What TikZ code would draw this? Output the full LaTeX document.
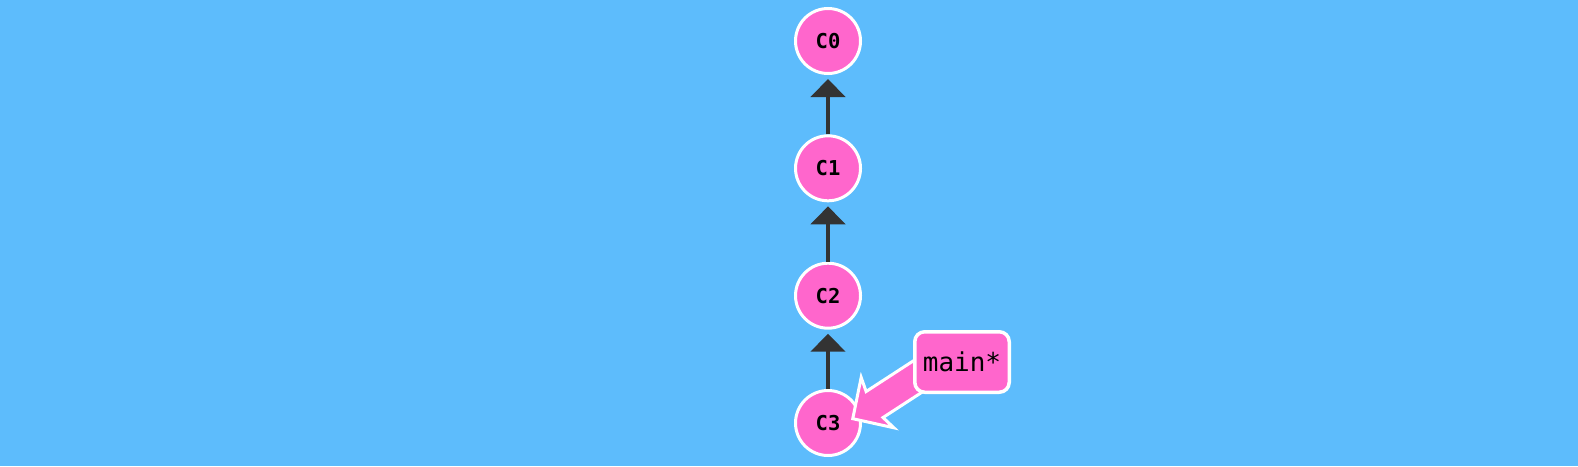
\documentclass[tikz,border=0pt]{standalone}
\usepackage{fontspec}
\setmonofont{DejaVu Sans Mono}
\usetikzlibrary{arrows.meta,calc}
\definecolor{bgblue}{HTML}{5DBCFC}
\definecolor{commitpink}{HTML}{FF66CC}
\definecolor{darkline}{HTML}{333333}
\tikzset{
  commit/.style={circle, fill=commitpink, draw=white, line width=3pt,
    minimum size=65pt, inner sep=0pt, font=\ttfamily\bfseries\fontsize{20.5}{20.5}\selectfont, text=black},
  branchbox/.style={rectangle, rounded corners=10pt, fill=commitpink, draw=white, line width=3.5pt,
    minimum width=94.5pt, minimum height=60.5pt, inner sep=0pt,
    font=\ttfamily\fontsize{26}{26}\selectfont, text=black},
  parentlink/.style={draw=darkline, line width=4.5pt, shorten >=4pt,
    -{Triangle[width=34pt,length=18pt]}},
  branchptr/.style={fill=commitpink, draw=white, line width=3pt, line join=miter},
}
\begin{document}
\begin{tikzpicture}[x=1pt,y=-1pt]
\path[use as bounding box, fill=bgblue] (0,0) rectangle (1578,466);
\node[commit] (C0) at (828,41) {C0};
\node[commit] (C1) at (828,168.3) {C1};
\node[commit] (C2) at (828,295.7) {C2};
\node[commit] (C3) at (828,423) {C3};
\draw[parentlink] (C1) -- (C0);
\draw[parentlink] (C2) -- (C1);
\draw[parentlink] (C3) -- (C2);
\coordinate (tip) at ($(C3.center)+(23.5,-3.5)$);
\begin{scope}[shift={(tip)}, x={(0.839pt,0.545pt)}, y={(0.545pt,-0.839pt)}]
  \path[branchptr] (1.5,0) -- (31,-30) -- (27.5,-15.5) -- (110,-15.5) -- (110,15.5) -- (27.5,15.5) -- (31,30) -- cycle;
\end{scope}
\node[branchbox] (main) at (962,362) {main*};
\end{tikzpicture}
\end{document}
